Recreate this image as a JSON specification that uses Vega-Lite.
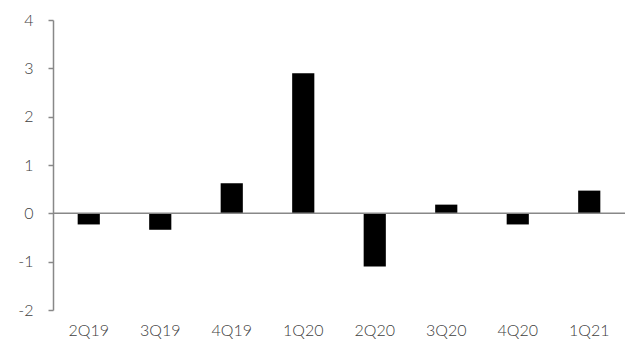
{
  "$schema": "https://vega.github.io/schema/vega-lite/v6.json",
  "width": 572,
  "height": 290,
  "autosize": {"type": "none"},
  "padding": {"left": 53, "top": 20, "right": 0, "bottom": 40},
  "background": "white",
  "config": {"view": {"stroke": null}, "font": "Lato"},
  "data": {"values": [
    {"q": "2Q19", "v": -0.23},
    {"q": "3Q19", "v": -0.34},
    {"q": "4Q19", "v": 0.62},
    {"q": "1Q20", "v": 2.90},
    {"q": "2Q20", "v": -1.10},
    {"q": "3Q20", "v": 0.18},
    {"q": "4Q20", "v": -0.23},
    {"q": "1Q21", "v": 0.47}
  ]},
  "layer": [
    {
      "mark": {"type": "bar", "color": "black"},
      "encoding": {
        "x": {"field": "q", "type": "nominal", "sort": null,
              "scale": {"paddingInner": 0.69, "paddingOuter": 0.345},
              "axis": {"title": null, "domain": false, "ticks": false, "labelAngle": 0, "labelFontSize": 16, "labelFontWeight": 300, "labelColor": "#404040", "labelPadding": 20, "labelBaseline": "middle"}},
        "y": {"field": "v", "type": "quantitative",
              "scale": {"domain": [-2, 4], "nice": false},
              "axis": {"title": null, "values": [-2, -1, 0, 1, 2, 3, 4], "labelExpr": "datum.value + ''", "grid": false, "domainColor": "#888888", "domainWidth": 1.5, "tickColor": "#888888", "tickWidth": 1.5, "tickSize": 5, "labelFontSize": 16, "labelFontWeight": 300, "labelColor": "#404040", "labelPadding": 15}}
      }
    },
    {
      "data": {"values": [{"z": 0}]},
      "mark": {"type": "rule", "color": "#888888", "strokeWidth": 1.5},
      "encoding": {"y": {"field": "z", "type": "quantitative"}}
    }
  ]
}
